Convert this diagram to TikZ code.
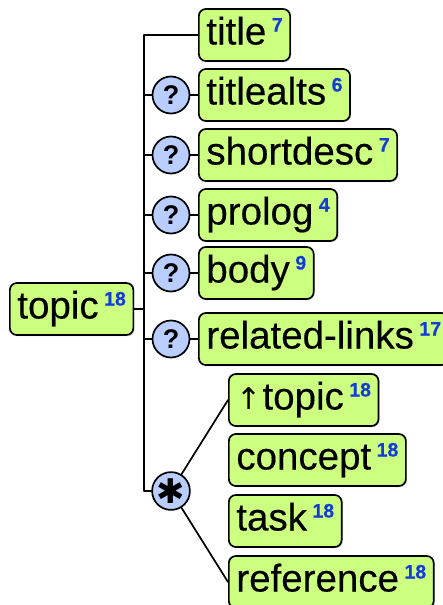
\documentclass[tikz,border=0pt]{standalone}
\usepackage{fontspec}
\setmainfont{Liberation Sans}
\newfontfamily\elemfont[FakeBold=0.35]{Liberation Sans}
\newfontfamily\symfont{DejaVu Sans}
\usetikzlibrary{shadows}
\definecolor{elemgreen}{RGB}{204,255,128}
\definecolor{occblue}{RGB}{185,205,255}
\definecolor{cntblue}{RGB}{20,60,215}
\newcommand{\cnt}[1]{\kern5.5pt\raisebox{13pt}{\fontsize{19.5}{19.5}\selectfont\bfseries\color{cntblue}#1}}

\begin{document}
\begin{tikzpicture}[x=1pt,y=-1pt,line cap=round,line join=round,
    elem/.style={draw,line width=1.7pt,rounded corners=7pt,fill=elemgreen,anchor=west,
      minimum height=52pt,inner xsep=7.5pt,text height=27pt,text depth=8pt,
      font=\elemfont\fontsize{38.5}{40}\selectfont,
      drop shadow={shadow xshift=1.2pt,shadow yshift=-1.2pt,opacity=.3}},
    occ/.style={draw,circle,line width=1.7pt,fill=occblue,minimum size=37pt,inner sep=0pt,
      font=\fontsize{27}{27}\selectfont\bfseries},
    conn/.style={line width=1.7pt}]
        \useasboundingbox (0,0) rectangle (443,605);

        % elements
        \node[elem] (topic) at (9,309) {topic\cnt{18}};
        \node[elem] (title) at (198,35) {title\cnt{7}};
        \node[elem] (titlealts) at (198,95) {titlealts\cnt{6}};
        \node[elem] (shortdesc) at (198,155) {shortdesc\cnt{7}};
        \node[elem] (prolog) at (198,215) {prolog\cnt{4}};
        \node[elem] (body) at (198,273) {body\cnt{9}};
        \node[elem] (rellinks) at (198,339) {related-links\cnt{17}};
        \node[elem] (uptopic) at (228,400) {{\symfont\fontsize{30}{30}\selectfont↑}\kern1pt topic\cnt{18}};
        \node[elem] (concept) at (228,460) {concept\cnt{18}};
        \node[elem] (task) at (228,521) {task\cnt{18}};
        \node[elem] (reference) at (228,582) {reference\cnt{18}};

        % occurrence marks
        \node[occ] (q1) at (171,95) {?};
        \node[occ] (q2) at (171,155) {?};
        \node[occ] (q3) at (171,215) {?};
        \node[occ] (q4) at (171,273) {?};
        \node[occ] (q5) at (171,339) {?};
        \node[occ,font=\symfont\fontsize{34}{34}\selectfont] (star) at (171,491) {✱};

        \coordinate (trunk) at (144,0);

        % connectors
        \draw[conn] (topic.east) -- (topic.east -| trunk);
        \draw[conn] (title.west) -| (star.west -| trunk) -- (star.west);
        \draw[conn] (trunk |- q1) -- (q1) -- (titlealts);
        \draw[conn] (trunk |- q2) -- (q2) -- (shortdesc);
        \draw[conn] (trunk |- q3) -- (q3) -- (prolog);
        \draw[conn] (trunk |- q4) -- (q4) -- (body);
        \draw[conn] (trunk |- q5) -- (q5) -- (rellinks);
        \draw[conn] (star) -- (uptopic.west);
        \draw[conn] (star) -- (reference.west);

\end{tikzpicture}
\end{document}
